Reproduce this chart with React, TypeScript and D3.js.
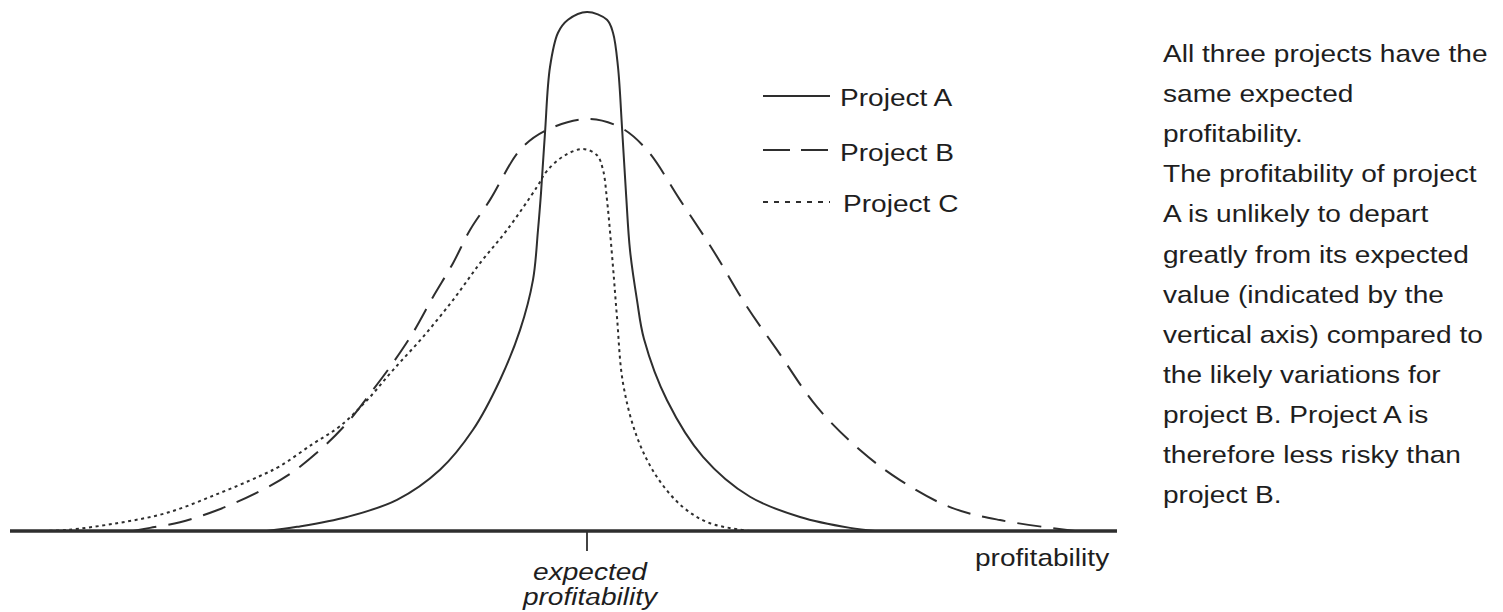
import React from "react";
import * as d3 from "d3";

// x: profitability relative to expected value (0 = expected); y: relative likelihood (A's peak = 100)
const projectA: [number, number][] = [
  [-3.2, 0], [-2.9, 0.8], [-2.4, 2.7], [-1.9, 6.0], [-1.47, 11.8], [-1.14, 19.5],
  [-0.87, 29.1], [-0.67, 38.7], [-0.54, 48.4], [-0.49, 58.0], [-0.46, 65.1], [-0.42, 76.7],
  [-0.37, 89.4], [-0.29, 96.0], [-0.19, 98.5], [0, 100], [0.2, 98.5], [0.26, 96.0],
  [0.31, 89.4], [0.35, 77.8], [0.39, 65.1], [0.43, 54.1], [0.5, 44.5], [0.57, 37.0],
  [0.8, 25.2], [1.16, 14.3], [1.63, 6.6], [2.13, 2.7], [2.63, 0.6], [2.88, 0],
];
const projectB: [number, number][] = [
  [-4.54, 0], [-4.37, 0.6], [-4.07, 1.7], [-3.7, 4.0], [-3.27, 7.7], [-2.97, 11.0],
  [-2.67, 15.6], [-2.4, 20.8], [-2.14, 27.2], [-1.94, 32.4], [-1.74, 38.2], [-1.54, 45.1],
  [-1.34, 51.6], [-1.17, 58.0], [-0.97, 63.8], [-0.67, 73.4], [-0.42, 77.1], [0, 79.4],
  [0.33, 77.8], [0.6, 73.4], [0.93, 63.8], [1.26, 54.1], [1.6, 43.2], [1.9, 34.9],
  [2.3, 23.9], [2.73, 15.6], [3.13, 9.8], [3.63, 4.6], [4.13, 2.1], [4.88, 0],
];
const projectC: [number, number][] = [
  [-5.44, 0], [-5.2, 0.2], [-4.7, 1.5], [-4.2, 3.5], [-3.7, 7.1], [-3.27, 10.6],
  [-3.07, 12.5], [-2.74, 16.8], [-2.47, 20.2], [-2.2, 25.2], [-1.94, 31.0], [-1.64, 37.4],
  [-1.34, 44.5], [-1.07, 51.6], [-0.8, 58.0], [-0.5, 66.3], [-0.4, 69.4], [-0.22, 72.4],
  [-0.04, 73.6], [0.1, 72.4], [0.16, 69.6], [0.2, 63.8], [0.26, 50.9], [0.3, 41.2],
  [0.36, 28.5], [0.5, 18.1], [0.7, 10.4], [0.96, 4.6], [1.23, 1.5], [1.63, 0],
];

const seriesNames = ["Project A", "Project B", "Project C"];
const axisLabel = "profitability";
const tickLabel = ["expected", "profitability"];
const noteLines = [
  "All three projects have the",
  "same expected",
  "profitability.",
  "The profitability of project",
  "A is unlikely to depart",
  "greatly from its expected",
  "value (indicated by the",
  "vertical axis) compared to",
  "the likely variations for",
  "project B. Project A is",
  "therefore less risky than",
  "project B.",
];

const W = 1503;
const H = 612;
const INK = "#2e2e2e";
const FONT = "'Liberation Sans', Arial, Helvetica, sans-serif";
const SX = 1.17;

export default function App() {
  const x = d3.scaleLinear().domain([-5.77, 5.3]).range([10, 1117]);
  const y = d3.scaleLinear().domain([0, 100]).range([531, 12]);
  const line = d3
    .line<[number, number]>()
    .x((d) => x(d[0]))
    .y((d) => y(d[1]))
    .curve(d3.curveCatmullRom.alpha(0.5));

  const styles = [
    { dash: undefined as string | undefined, legendDash: undefined as string | undefined },
    { dash: "24,12", legendDash: "27,11" },
    { dash: "3,3.6", legendDash: "5,6" },
  ];
  const data = [projectA, projectB, projectC];
  const legendY = [96, 150, 202];
  const legendTextY = [106, 161, 212];

  const txt = (s: string, tx: number, ty: number, anchor: string, italic = false, key?: string) => (
    <text
      key={key}
      transform={`translate(${tx},${ty}) scale(${SX},1)`}
      textAnchor={anchor}
      fontFamily={FONT}
      fontSize={24}
      fontStyle={italic ? "italic" : "normal"}
      fill="#1e1e1e"
    >
      {s}
    </text>
  );

  return (
    <svg
      width={W}
      height={H}
      style={{ position: "absolute", left: 0, top: 0, background: "#fff" }}
    >
      <rect width={W} height={H} fill="#fff" />
      {data.map((d, i) => (
        <path
          key={seriesNames[i]}
          d={line(d) || ""}
          fill="none"
          stroke={INK}
          strokeWidth={2}
          strokeDasharray={styles[i].dash}
        />
      ))}
      {/* axis */}
      <line x1={x(-5.77)} x2={x(5.3)} y1={y(0)} y2={y(0)} stroke={INK} strokeWidth={3.5} />
      <line x1={x(0)} x2={x(0)} y1={y(0)} y2={y(0) + 20} stroke={INK} strokeWidth={1.8} />
      {txt(tickLabel[0], x(0) + 3, 580, "middle", true)}
      {txt(tickLabel[1], x(0) + 3, 605, "middle", true)}
      {txt(axisLabel, 975, 566, "start")}
      {/* legend */}
      {seriesNames.map((n, i) => (
        <g key={n}>
          <line
            x1={763}
            x2={830}
            y1={legendY[i]}
            y2={legendY[i]}
            stroke={INK}
            strokeWidth={2}
            strokeDasharray={styles[i].legendDash}
          />
          {txt(n, i === 2 ? 843 : 840, legendTextY[i], "start")}
        </g>
      ))}
      {/* note */}
      {noteLines.map((s, i) => txt(s, 1163, 62 + i * 40.1, "start", false, `n${i}`))}
    </svg>
  );
}
